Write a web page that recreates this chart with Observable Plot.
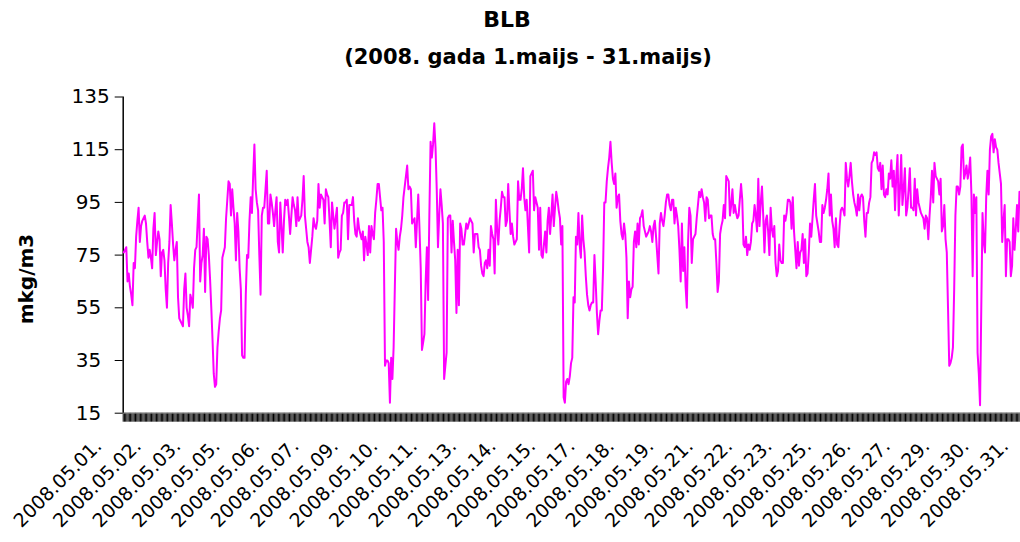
<!DOCTYPE html>
<html>
<head>
<meta charset="utf-8">
<script src="https://cdn.jsdelivr.net/npm/d3@7"></script>
<script src="https://cdn.jsdelivr.net/npm/@observablehq/plot@0.6"></script>
<style>
  html, body { margin: 0; padding: 0; background: white; overflow: hidden; }
  #wrap { width: 1020px; height: 542px; position: relative; overflow: hidden; }
  #title { position: relative; height: 82px; font-family: "DejaVu Sans", sans-serif; font-weight: bold; color: black; }
  #title div { position: absolute; transform: translateX(-50%); line-height: 1; white-space: nowrap; }
  #chart { width: 1020px; height: 460px; overflow: hidden; }
</style>
</head>
<body>
<div id="wrap">
  <div id="title">
    <div id="t1" style="left:507px; top:9px; font-size:22px;">BLB</div>
    <div id="t2" style="left:528px; top:47px; font-size:21px;">(2008. gada 1.maijs - 31.maijs)</div>
  </div>
  <div id="chart"></div>
</div>
<script>
// Hourly concentrations, 1–31 May 2008 (744 hours)
const values = [
  76,77,78,65,68,63,60,56,72,70,
  82,88,93,80,86,88,89,90,87,80,
  74,77,74,70,85,91,75,80,84,81,
  67,76,77,73,62,55,72,80,94,87,
  79,73,77,80,59,51,50,49,48,62,
  68,55,52,48,60,58,55,70,77,78,
  88,98,65,72,75,85,61,82,81,75,
  66,55,43,30,25,26,40,46,51,54,
  74,76,78,89,96,103,102,90,100,93,
  87,73,91,84,70,62,37,36,36,60,
  75,74,88,97,91,105,117,100,95,92,
  75,60,90,93,93,100,107,87,87,98,
  95,91,86,92,97,80,76,95,86,76,
  88,96,94,96,90,83,90,97,94,92,
  86,97,88,89,90,96,105,90,85,80,
  78,72,77,82,89,86,85,88,102,93,
  98,97,96,87,100,98,97,88,78,95,
  90,85,89,93,74,76,77,90,91,95,
  95,96,81,94,94,94,97,88,83,82,
  89,85,83,81,84,73,82,79,75,86,
  76,86,83,81,91,96,102,102,97,92,
  93,80,33,35,35,34,19,36,28,40,
  63,85,80,77,82,85,90,97,101,105,
  109,100,101,100,87,88,89,78,88,98,
  85,70,39,42,45,65,78,58,90,118,
  112,117,125,116,100,78,90,100,94,87,
  28,33,38,89,90,90,76,88,80,73,
  53,77,56,87,85,79,79,83,87,85,
  87,89,88,87,76,83,83,83,78,77,
  71,68,67,72,73,70,77,71,86,83,
  81,68,96,85,79,88,93,99,97,97,
  86,88,102,92,83,87,82,79,80,81,
  103,96,96,100,108,97,92,96,86,76,
  105,106,107,92,97,95,93,77,93,75,
  74,79,84,76,88,93,83,90,98,86,
  93,99,96,92,89,79,86,21,19,27,
  28,26,29,34,36,59,57,82,79,91,
  79,74,90,81,76,67,60,56,54,56,
  57,57,75,65,53,45,50,54,54,70,
  95,95,103,108,112,118,110,104,102,106,
  93,97,98,88,83,81,87,83,74,51,
  65,59,62,63,80,84,78,87,79,89,
  90,92,86,84,82,83,84,86,84,80,
  86,88,82,75,68,87,91,88,86,90,
  95,98,98,94,92,96,96,87,93,90,
  86,77,65,87,69,78,63,55,80,93,
  90,72,81,82,83,89,94,99,97,100,
  97,95,88,97,96,89,90,90,83,81,
  81,72,61,65,83,86,88,94,89,105,
  104,103,90,94,100,91,94,91,89,90,
  96,102,96,79,78,82,75,79,77,80,
  87,88,94,90,84,104,86,95,101,90,
  76,88,90,84,75,93,85,82,86,72,
  67,69,79,73,72,72,90,88,91,96,
  96,95,85,97,84,77,70,80,71,76,
  77,83,72,81,67,68,76,87,82,89,
  96,102,90,87,84,80,80,94,91,93,
  96,100,106,90,98,88,85,78,89,79,
  78,86,92,93,92,90,110,104,101,105,
  110,103,98,95,93,90,98,92,97,98,
  97,88,82,91,91,95,97,110,111,114,
  113,114,108,107,110,100,109,98,97,100,
  98,106,104,111,101,107,92,105,113,90,
  100,113,94,100,108,90,93,100,108,93,
  93,92,104,90,100,95,93,91,90,89,
  85,90,89,81,90,97,107,95,110,105,
  104,103,98,104,84,86,94,81,76,55,
  33,34,36,40,62,90,101,101,98,101,
  116,117,104,106,109,104,107,112,98,67,
  98,91,97,38,30,18,55,91,80,76,
  97,107,98,115,120,121,114,119,116,115,
  110,106,102,80,88,94,67,81,81,80,
  67,71,89,77,85,94,84,99,97,93,
  90,88,91,95,93,89,86,88,92,95,
  93,90,87,85
];

const yTicks = [15, 35, 55, 75, 95, 115, 135];

const tickLabels = [
  "2008.05.01.", "2008.05.02.", "2008.05.03.", "2008.05.05.", "2008.05.06.", "2008.05.07.",
  "2008.05.09.", "2008.05.10.", "2008.05.11.", "2008.05.13.", "2008.05.14.", "2008.05.15.",
  "2008.05.17.", "2008.05.18.", "2008.05.19.", "2008.05.21.", "2008.05.22.", "2008.05.23.",
  "2008.05.25.", "2008.05.26.", "2008.05.27.", "2008.05.29.", "2008.05.30.", "2008.05.31."
];
const labelEvery = 32;   // one category label every 32 hourly categories
const yLabel = "mkg/m3";

const data = values.map((v, i) => ({i, v}));
const labelData = tickLabels.map((t, k) => ({i: k * labelEvery, t}));
const boundaries = d3.range(values.length + 1).map(k => k - 0.5);

const chart = Plot.plot({
  width: 1020,
  height: 460,
  marginLeft: 122.7,
  marginRight: -19.3,
  marginTop: 14.5,
  marginBottom: 129.3,
  style: {fontFamily: "DejaVu Sans", background: "white", color: "black", overflow: "hidden"},
  x: {type: "linear", domain: [-0.5, values.length - 0.5]},
  y: {domain: [15, 135]},
  marks: [
    // dense category tick marks
    Plot.axisX(boundaries, {tickSize: 9, fill: "none", stroke: "black", label: null}),
    Plot.ruleY([15], {stroke: "#808080", strokeWidth: 1}),
    // y ticks and labels
    Plot.axisY(yTicks.filter(d => d >= 100), {tickSize: 8, tickPadding: 5.5, fontSize: 20, stroke: "black", fill: "black", label: null}),
    Plot.axisY(yTicks.filter(d => d < 100), {tickSize: 8, tickPadding: 14, fontSize: 20, stroke: "black", fill: "black", label: null}),
    Plot.ruleX([-0.5], {stroke: "black", strokeWidth: 1.5}),
    Plot.line(data, {x: "i", y: "v", stroke: "#FF00FF", strokeWidth: 2}),
    Plot.text(labelData, {
      x: "i", text: "t", frameAnchor: "bottom", rotate: -45,
      textAnchor: "end", lineAnchor: "bottom", dx: -21, dy: 34,
      fontSize: 19, fill: "black"
    }),
    Plot.text([yLabel], {
      frameAnchor: "left", rotate: -90, textAnchor: "middle", lineAnchor: "middle",
      dx: -96.7, dy: 23.9,
      fontSize: 20, fontWeight: "bold", fill: "black"
    })
  ]
});
document.getElementById("chart").appendChild(chart);
</script>
</body>
</html>
